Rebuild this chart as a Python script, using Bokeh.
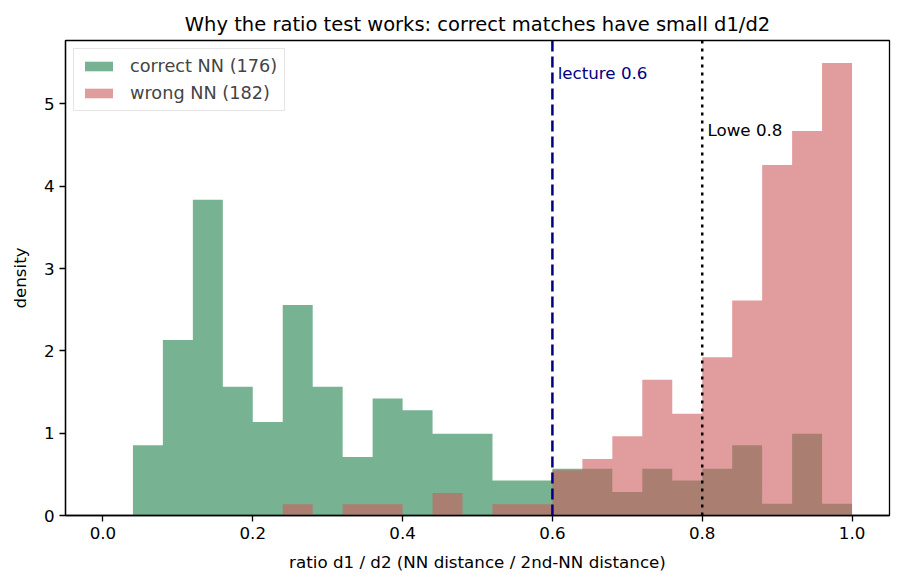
from bokeh.plotting import figure
from bokeh.models import Span, Label, FixedTicker, PrintfTickFormatter, Range1d, Legend
from bokeh.embed import file_html
from bokeh.resources import INLINE

# ---- data ----
bin_width = 0.04
bin_edges = [round(i * bin_width, 2) for i in range(26)]
correct_counts = [0, 6, 15, 27, 11, 8, 18, 11, 5, 10, 9, 7, 7, 3, 3,
                  4, 4, 2, 4, 3, 4, 6, 1, 7, 1]
wrong_counts = [0, 0, 0, 0, 0, 0, 1, 0, 1, 1, 0, 2, 0, 1, 1,
                4, 5, 7, 12, 9, 14, 19, 31, 34, 40]
thresholds = [0.6, 0.8]
threshold_labels = ["lecture 0.6", "Lowe 0.8"]
x_ticks = [0.0, 0.2, 0.4, 0.6, 0.8, 1.0]
y_ticks = [0, 1, 2, 3, 4, 5]

n_correct = sum(correct_counts)
n_wrong = sum(wrong_counts)
correct_density = [c / (n_correct * bin_width) for c in correct_counts]
wrong_density = [c / (n_wrong * bin_width) for c in wrong_counts]
ymax = 1.05 * max(max(correct_density), max(wrong_density))

FONT = "DejaVu Sans"

p = figure(width=903, height=586, output_backend="svg", toolbar_location=None,
           x_range=Range1d(-0.05, 1.05), y_range=Range1d(0, ymax),
           title="Why the ratio test works: correct matches have small d1/d2",
           min_border_left=65, min_border_right=14, min_border_top=40, min_border_bottom=71)

# step areas (value holds from each left edge to the next edge) -> seamless histogram
r1 = p.varea_step(x=bin_edges, y1=0, y2=correct_density + [0], step_mode="after",
                  fill_color="#2E8B57", fill_alpha=0.65)
r2 = p.varea_step(x=bin_edges, y1=0, y2=wrong_density + [0], step_mode="after",
                  fill_color="#CD5C5C", fill_alpha=0.6)

legend = Legend(items=[(f"correct NN ({n_correct})", [r1]), (f"wrong NN ({n_wrong})", [r2])],
                location="top_left")
legend.margin = 8
legend.padding = 7
legend.spacing = 7
legend.glyph_width = 35
legend.glyph_height = 12
legend.label_height = 20
legend.label_standoff = 14
legend.label_text_font = FONT
legend.label_text_font_size = "17.7px"
legend.border_line_color = "#cccccc"
legend.border_line_width = 1.3
legend.background_fill_alpha = 0.8
p.add_layout(legend)

span_colors = ["navy", "black"]
span_dashes = ["11 5", "3 5"]
text_fracs = [0.92, 0.80]
for xv, lab, col, dash, fr in zip(thresholds, threshold_labels, span_colors, span_dashes, text_fracs):
    p.add_layout(Span(location=xv, dimension="height", line_color=col,
                      line_dash=dash, line_width=2.5))
    p.add_layout(Label(x=xv + 0.007, y=fr * ymax, y_offset=6, text=lab, text_color=col,
                       text_font=FONT, text_font_size="16.7px",
                       text_align="left", text_baseline="alphabetic"))

p.title.text_font = FONT
p.title.text_font_size = "19.5px"
p.title.text_font_style = "normal"
p.title.align = "center"
p.title.text_color = "black"

p.xgrid.visible = False
p.ygrid.visible = False
p.outline_line_color = "black"
p.outline_line_width = 1.3
p.background_fill_color = "white"
p.border_fill_color = "white"

p.xaxis.ticker = FixedTicker(ticks=x_ticks)
p.xaxis.formatter = PrintfTickFormatter(format="%.1f")
p.yaxis.ticker = FixedTicker(ticks=y_ticks)
p.yaxis.formatter = PrintfTickFormatter(format="%d")
p.xaxis.axis_label = "ratio d1 / d2 (NN distance / 2nd-NN distance)"
p.yaxis.axis_label = "density"

for ax in (p.xaxis, p.yaxis):
    ax.axis_line_color = "black"
    ax.axis_line_width = 1.3
    ax.major_tick_line_color = "black"
    ax.major_tick_line_width = 1.3
    ax.major_tick_out = 6
    ax.major_tick_in = 0
    ax.minor_tick_line_color = None
    ax.major_label_text_font = FONT
    ax.major_label_text_font_size = "16.7px"
    ax.major_label_text_color = "black"
    ax.axis_label_text_font = FONT
    ax.axis_label_text_font_size = "16.7px"
    ax.axis_label_text_font_style = "normal"
    ax.axis_label_text_color = "black"
    ax.major_label_standoff = 5
p.xaxis.axis_label_standoff = 10
p.yaxis.axis_label_standoff = 11

open("out.html", "w").write(file_html(p, INLINE))
